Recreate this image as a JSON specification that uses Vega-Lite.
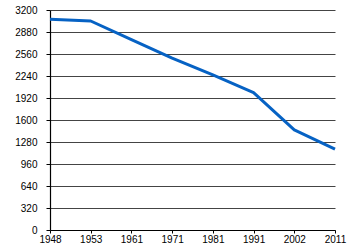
{
  "$schema": "https://vega.github.io/schema/vega-lite/v6.json",
  "width": 285,
  "height": 220,
  "autosize": {"type": "none"},
  "padding": {"left": 50, "top": 10, "right": 15, "bottom": 20},
  "background": "white",
  "config": {
    "view": {"stroke": null},
    "axis": {"labelFont": "Liberation Sans", "labelFontSize": 10, "labelColor": "#000", "titleFont": "Liberation Sans"}
  },
  "data": {
    "values": [
      {"year": "1948", "value": 3065},
      {"year": "1953", "value": 3040},
      {"year": "1961", "value": 2770},
      {"year": "1971", "value": 2500},
      {"year": "1981", "value": 2255},
      {"year": "1991", "value": 1997},
      {"year": "2002", "value": 1455},
      {"year": "2011", "value": 1175}
    ]
  },
  "mark": {"type": "line", "color": "#0662c4", "strokeWidth": 3, "strokeJoin": "round"},
  "encoding": {
    "x": {
      "field": "year", "type": "ordinal", "sort": null,
      "scale": {"type": "point", "padding": 0},
      "axis": {"title": null, "labelAngle": 0, "domainColor": "#000", "domainWidth": 1.2, "tickColor": "#000", "tickSize": 3, "labelPadding": 1, "grid": false}
    },
    "y": {
      "field": "value", "type": "quantitative",
      "scale": {"domain": [0, 3200], "nice": false},
      "axis": {"title": null, "values": [0, 320, 640, 960, 1280, 1600, 1920, 2240, 2560, 2880, 3200], "format": "d", "grid": true, "gridColor": "#444", "gridWidth": 1, "domainColor": "#000", "domainWidth": 1.2, "tickColor": "#000", "tickSize": 4, "labelPadding": 9}
    }
  }
}
